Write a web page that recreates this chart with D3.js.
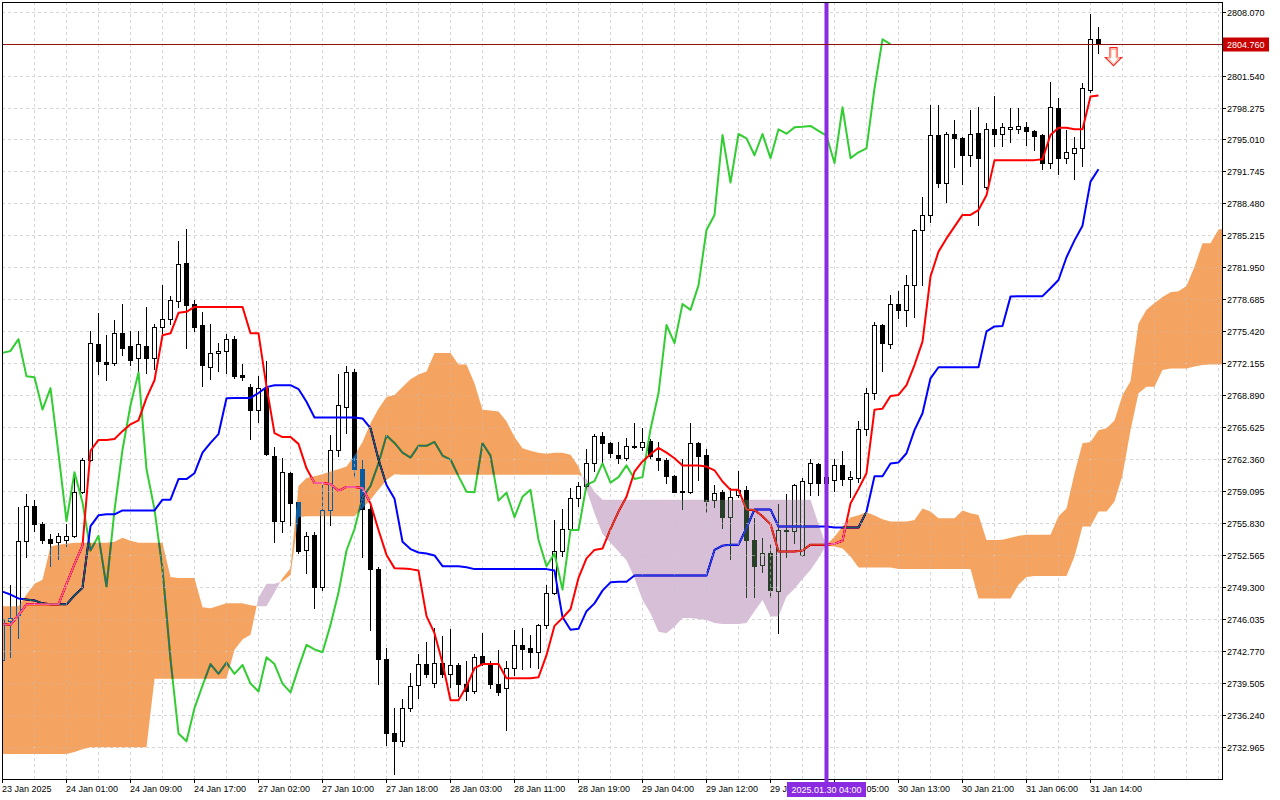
<!DOCTYPE html>
<html>
<head>
<meta charset="utf-8">
<script src="https://d3js.org/d3.v7.min.js"></script>
<style>
  html, body { margin: 0; padding: 0; background: #fff; }
  svg { display: block; font-family: "Liberation Sans", Arial, sans-serif; }
</style>
</head>
<body>
<div id="viz"></div>
<script>
// XAUUSD H1, 23 Jan 17:00 .. 31 Jan 15:00 (one entry per bar)
const OPEN = [2741.8,2745.8,2746.4,2754.0,2757.6,2755.7,2754.2,2753.9,2754.1,2754.5,2759.0,2762.3,2774.1,2772.3,2772.2,2775.2,2773.9,2772.7,2773.9,2772.7,
  2775.8,2776.7,2778.5,2782.4,2778.2,2776.0,2771.8,2773.2,2773.4,2774.6,2770.9,2769.7,2767.4,2769.6,2762.7,2756.0,2760.9,2758.0,2753.1,2754.6,
  2749.3,2757.1,2763.3,2767.7,2771.2,2761.3,2757.2,2751.1,2741.9,2734.4,2733.5,2736.9,2739.3,2741.4,2739.5,2741.55,2740.4,2741.3,2739.4,2738.65,
  2742.2,2741.3,2739.4,2738.9,2741.0,2743.35,2743.0,2742.6,2745.4,2748.7,2753.0,2755.2,2758.4,2759.6,2761.9,2764.75,2764.0,2762.8,2762.5,2763.6,
  2763.6,2764.2,2762.5,2762.3,2760.6,2759.1,2758.95,2764.0,2762.8,2758.2,2759.0,2756.4,2758.7,2759.2,2754.1,2751.5,2752.7,2748.9,2755.0,2755.0,
  2752.5,2759.9,2761.85,2759.9,2760.2,2761.7,2760.3,2760.4,2765.4,2769.07,2776.05,2774.1,2778.2,2777.6,2780.1,2785.76,2787.3,2795.47,2790.6,2795.57,
  2795.13,2793.4,2795.7,2790.2,2796.05,2795.6,2796.05,2796.05,2796.3,2795.9,2795.5,2792.6,2798.2,2793.1,2793.6,2794.1,2800.07,2805.25];
const HIGH = [2746.6,2749.5,2757.4,2758.8,2758.2,2755.9,2754.7,2754.8,2755.7,2760.4,2762.5,2775.4,2777.3,2775.0,2776.6,2778.2,2775.4,2775.4,2777.9,2776.2,
  2780.1,2779.0,2784.6,2785.9,2778.6,2777.4,2776.2,2774.2,2775.1,2774.9,2772.1,2770.0,2770.8,2772.4,2763.6,2762.5,2761.0,2758.0,2754.9,2754.9,
  2759.7,2764.8,2771.05,2771.9,2771.6,2762.3,2757.8,2751.3,2743.0,2736.9,2737.8,2740.5,2742.4,2743.7,2745.1,2744.3,2745.0,2741.5,2741.7,2742.4,
  2744.6,2741.7,2742.8,2741.7,2744.9,2745.1,2744.4,2745.5,2749.5,2756.1,2757.2,2759.4,2760.0,2763.35,2764.9,2765.1,2764.1,2764.1,2764.5,2766.0,
  2765.5,2764.4,2764.1,2762.5,2760.7,2762.4,2766.0,2764.1,2763.35,2759.7,2759.2,2759.4,2761.1,2759.6,2756.3,2754.25,2753.7,2757.8,2758.8,2759.8,
  2760.4,2762.4,2761.9,2761.5,2762.4,2763.2,2761.1,2766.2,2769.6,2776.4,2776.2,2779.1,2779.5,2781.2,2785.9,2789.1,2798.5,2798.5,2795.8,2797.0,
  2795.3,2798.0,2798.3,2796.7,2799.45,2796.7,2798.2,2798.2,2796.8,2796.0,2795.6,2800.9,2799.3,2796.0,2795.3,2800.8,2807.8,2806.5];
const LOW = [2741.0,2742.1,2744.1,2752.3,2755.0,2753.8,2751.4,2752.1,2753.5,2754.4,2758.9,2762.1,2771.0,2770.4,2772.0,2773.0,2772.0,2771.1,2771.1,2771.6,
  2775.2,2776.2,2777.9,2773.7,2775.4,2769.8,2770.5,2771.3,2771.1,2770.6,2770.4,2764.4,2766.1,2762.8,2753.85,2754.9,2755.6,2752.7,2750.7,2747.1,
  2749.0,2755.6,2762.7,2765.0,2760.55,2752.3,2744.9,2739.4,2733.1,2730.2,2733.0,2736.6,2737.9,2740.1,2739.1,2740.1,2739.1,2738.1,2737.7,2738.4,
  2741.3,2738.9,2738.2,2734.7,2740.3,2740.9,2741.1,2741.0,2745.05,2748.6,2752.4,2754.9,2757.5,2759.5,2761.1,2762.0,2762.6,2761.9,2762.3,2763.5,
  2763.3,2762.5,2761.2,2759.9,2759.0,2757.2,2758.9,2760.2,2756.9,2757.4,2755.3,2752.1,2758.5,2748.2,2748.3,2750.85,2748.3,2744.6,2752.3,2753.8,
  2752.4,2758.7,2758.7,2758.5,2759.1,2759.7,2758.45,2760.05,2764.8,2768.5,2771.3,2773.7,2776.8,2775.95,2776.9,2780.1,2786.6,2790.2,2788.66,2792.2,
  2790.5,2792.3,2786.3,2790.0,2794.3,2794.3,2794.8,2795.7,2794.4,2793.9,2791.96,2792.1,2791.5,2792.6,2791.0,2792.3,2799.9,2803.8];
const CLOSE = [2746.0,2746.1,2754.0,2757.6,2755.7,2754.1,2753.8,2754.5,2754.5,2759.0,2762.3,2774.2,2772.4,2772.1,2775.2,2773.7,2772.5,2774.1,2772.7,2775.8,
  2776.7,2778.6,2782.3,2778.1,2775.8,2772.0,2773.2,2773.4,2774.6,2770.8,2770.7,2767.4,2769.6,2762.9,2756.0,2761.0,2757.9,2753.0,2754.5,2749.3,
  2757.1,2763.3,2767.85,2771.2,2761.3,2757.2,2751.1,2741.9,2734.3,2733.5,2736.9,2739.2,2741.4,2740.4,2741.55,2740.4,2741.3,2739.4,2738.6,2742.1,
  2741.4,2739.4,2738.5,2741.0,2743.35,2742.9,2742.6,2745.4,2748.7,2753.0,2755.2,2758.4,2759.6,2761.9,2764.75,2764.0,2763.0,2762.5,2763.7,2763.7,
  2764.1,2762.7,2762.3,2760.6,2759.0,2758.95,2763.96,2762.7,2758.1,2758.9,2756.4,2758.5,2759.2,2754.1,2751.4,2752.7,2749.0,2755.1,2755.1,2759.7,
  2760.1,2761.9,2759.94,2760.5,2761.7,2760.3,2760.5,2765.4,2769.07,2776.05,2774.2,2778.2,2777.6,2780.1,2785.76,2787.3,2795.47,2790.6,2795.57,2795.13,
  2793.4,2795.57,2793.1,2796.05,2795.6,2796.25,2796.3,2796.4,2795.9,2795.4,2792.6,2798.3,2793.1,2793.7,2794.1,2800.24,2805.25,2804.76];

const TENKAN = [2745.5,2745.4,2746.4,2747.5,2747.5,2747.5,2747.5,2747.5,2749.6,2751.6,2753.5,2763.2,2764.3,2764.3,2764.4,2765.2,2765.9,2766.3,2768.6,2770.4,
  2775.0,2775.2,2777.3,2777.4,2777.9,2777.9,2777.9,2777.9,2777.9,2777.9,2777.9,2775.2,2775.2,2769.75,2765.0,2764.6,2764.6,2763.9,2761.4,2759.9,
  2759.9,2759.8,2759.1,2759.5,2759.5,2759.4,2757.8,2755.1,2752.55,2751.2,2751.15,2751.1,2750.95,2746.3,2744.55,2741.5,2737.7,2737.7,2739.1,2740.97,
  2741.4,2741.4,2741.4,2739.95,2739.95,2739.95,2739.95,2740.05,2742.3,2745.3,2746.1,2747.0,2750.2,2752.2,2753.06,2753.2,2755.2,2756.98,2758.5,2761.07,
  2762.1,2762.84,2763.5,2763.0,2762.43,2761.7,2761.7,2761.7,2761.58,2761.2,2760.05,2759.2,2759.2,2757.2,2757.15,2756.5,2755.7,2752.9,2752.9,2752.9,
  2753.0,2753.6,2753.6,2753.6,2753.7,2754.0,2757.8,2759.3,2760.9,2767.4,2767.5,2768.8,2768.9,2769.9,2771.96,2774.35,2781.0,2783.55,2784.9,2786.1,
  2787.3,2787.3,2787.8,2789.3,2792.9,2792.9,2792.9,2792.9,2792.9,2792.9,2793.0,2795.47,2796.2,2796.2,2796.05,2796.05,2799.4,2799.5];
const KIJUN = [2748.8,2748.5,2748.1,2748.0,2747.9,2747.6,2747.5,2747.5,2747.5,2748.4,2749.2,2755.5,2756.6,2756.7,2756.7,2757.1,2757.1,2757.1,2757.1,2757.1,
  2758.2,2758.2,2760.3,2760.3,2760.9,2763.0,2764.0,2764.9,2768.56,2768.6,2768.6,2768.6,2769.1,2769.7,2769.9,2769.9,2769.9,2769.5,2768.2,2766.6,
  2766.6,2766.6,2766.6,2766.6,2766.6,2766.5,2765.5,2762.3,2759.7,2758.3,2753.9,2753.15,2752.8,2752.7,2752.5,2751.4,2751.4,2751.4,2751.3,2751.1,
  2751.1,2751.1,2751.1,2751.1,2751.1,2751.1,2751.1,2751.1,2751.1,2750.95,2746.2,2744.9,2745.0,2746.8,2747.6,2748.9,2749.75,2749.8,2749.8,2750.44,
  2750.44,2750.44,2750.44,2750.44,2750.44,2750.44,2750.44,2750.44,2750.44,2753.06,2753.5,2753.6,2753.6,2755.3,2757.2,2757.2,2757.2,2755.45,2755.45,2755.45,
  2755.45,2755.45,2755.45,2755.45,2755.35,2755.35,2755.35,2755.35,2756.98,2760.6,2760.6,2761.9,2762.0,2762.94,2765.3,2767.03,2770.6,2771.73,2771.73,2771.73,
  2771.73,2771.73,2771.73,2775.4,2775.9,2775.95,2778.95,2779.0,2779.0,2779.0,2779.0,2779.8,2780.65,2782.97,2784.7,2786.2,2790.7,2791.96];
// lagging span, drawn 26 bars back
const CHIKOU = [2773.2,2773.4,2774.6,2770.8,2770.7,2767.4,2769.6,2762.9,2756.0,2761.0,2757.9,2753.0,2754.5,2749.3,2757.1,2763.3,2767.85,2771.2,2761.3,2757.2,
  2751.1,2741.9,2734.3,2733.5,2736.9,2739.2,2741.4,2740.4,2741.55,2740.4,2741.3,2739.4,2738.6,2742.1,2741.4,2739.4,2738.5,2741.0,2743.35,2742.9,
  2742.6,2745.4,2748.7,2753.0,2755.2,2758.4,2759.6,2761.9,2764.75,2764.0,2763.0,2762.5,2763.7,2763.7,2764.1,2762.7,2762.3,2760.6,2759.0,2758.95,
  2763.96,2762.7,2758.1,2758.9,2756.4,2758.5,2759.2,2754.1,2751.4,2752.7,2749.0,2755.1,2755.1,2759.7,2760.1,2761.9,2759.94,2760.5,2761.7,2760.3,
  2760.5,2765.4,2769.07,2776.05,2774.2,2778.2,2777.6,2780.1,2785.76,2787.3,2795.47,2790.6,2795.57,2795.13,2793.4,2795.57,2793.1,2796.05,2795.6,2796.25,
  2796.3,2796.4,2795.9,2795.4,2792.6,2798.3,2793.1,2793.7,2794.1,2800.24,2805.25,2804.76];
// leading spans, drawn 26 bars ahead (run past the last candle)
const SPAN_A = [2747.3,2747.3,2747.3,2748.5,2749.6,2750.0,2753.4,2753.6,2753.7,2753.8,2753.8,2753.8,2753.8,2753.8,2753.9,2754.3,2754.0,2753.8,2753.8,2753.8,
  2753.8,2750.3,2750.2,2750.2,2750.2,2747.2,2747.1,2747.35,2747.6,2747.6,2747.6,2747.4,2747.3,2747.3,2748.7,2750.2,2751.2,2759.6,2760.4,2760.6,
  2760.8,2761.07,2761.3,2761.6,2762.7,2764.1,2766.0,2767.5,2768.7,2768.9,2769.7,2770.5,2771.0,2771.3,2773.2,2773.2,2773.2,2772.0,2772.0,2770.1,
  2767.4,2767.3,2767.2,2766.2,2764.6,2763.45,2763.2,2763.0,2762.9,2763.0,2763.0,2762.8,2761.6,2759.2,2756.8,2754.7,2753.8,2752.9,2752.0,2750.2,
  2747.95,2746.6,2744.7,2744.55,2745.2,2746.1,2746.1,2746.0,2745.9,2745.6,2745.5,2745.5,2745.5,2745.6,2746.8,2747.95,2746.25,2746.25,2748.3,2749.1,
  2750.1,2751.0,2752.2,2753.6,2754.4,2755.45,2756.37,2756.6,2756.9,2756.57,2756.2,2755.96,2755.96,2755.96,2756.13,2757.3,2756.98,2756.3,2756.3,2756.3,
  2757.08,2756.8,2756.64,2754.08,2754.08,2754.09,2754.3,2754.5,2754.6,2754.6,2754.6,2754.6,2756.5,2757.3,2760.9,2763.96,2764.1,2765.3,2765.5,2766.3,
  2768.9,2770.3,2776.2,2777.6,2778.3,2778.9,2779.4,2779.5,2780.04,2782.0,2784.4,2784.4,2785.8,2785.95];
const SPAN_B = [2732.2,2732.2,2732.2,2732.2,2732.2,2732.2,2732.2,2732.2,2732.2,2732.4,2732.7,2732.9,2732.9,2732.9,2732.9,2732.9,2732.9,2732.9,2732.9,2739.9,
  2739.9,2739.9,2739.9,2739.9,2739.9,2739.9,2739.9,2739.9,2739.9,2742.85,2743.9,2744.4,2748.2,2749.6,2749.6,2749.85,2750.5,2756.4,2756.5,2756.5,
  2756.5,2756.5,2756.5,2756.5,2756.5,2757.3,2758.2,2759.2,2760.2,2760.8,2760.75,2760.75,2760.75,2760.75,2760.75,2760.75,2760.75,2760.75,2760.75,2760.75,
  2760.75,2760.75,2760.75,2760.75,2760.75,2760.75,2760.75,2760.75,2760.75,2760.75,2760.75,2760.75,2760.75,2760.3,2759.0,2758.2,2758.2,2758.2,2758.2,2758.2,
  2758.2,2758.2,2758.2,2758.2,2758.2,2758.2,2758.2,2758.2,2758.2,2758.2,2758.2,2758.2,2758.2,2758.2,2758.2,2758.2,2758.2,2758.2,2758.2,2758.2,
  2758.2,2758.2,2755.7,2753.47,2753.4,2753.2,2752.4,2751.26,2751.26,2751.26,2751.26,2751.26,2751.1,2751.1,2751.1,2751.1,2751.1,2751.1,2751.1,2751.1,
  2751.1,2751.1,2748.1,2748.1,2748.1,2748.1,2748.1,2749.5,2750.3,2750.4,2750.4,2750.4,2750.4,2750.4,2752.4,2755.45,2755.45,2756.98,2756.98,2758.0,
  2760.7,2765.3,2769.07,2769.75,2769.75,2771.45,2771.6,2771.6,2771.6,2771.8,2771.97,2772.0,2772.0,2772.0];

const PRICE_TICKS = ["2808.070","2804.805","2801.540","2798.275","2795.010","2791.745","2788.480","2785.215","2781.950","2778.685","2775.420","2772.155",
  "2768.890","2765.625","2762.360","2759.095","2755.830","2752.565","2749.300","2746.035","2742.770","2739.505","2736.240","2732.965"];
const TIME_TICK_BARS = [0,8,16,24,32,40,48,56,64,72,80,88,96,104,112,120,128,136];
const TIME_LABELS = ["23 Jan 2025","24 Jan 01:00","24 Jan 09:00","24 Jan 17:00","27 Jan 02:00","27 Jan 10:00","27 Jan 18:00","28 Jan 03:00",
  "28 Jan 11:00","28 Jan 19:00","29 Jan 04:00","29 Jan 12:00","29 Jan 20:00","30 Jan 05:00","30 Jan 13:00","30 Jan 21:00","31 Jan 06:00","31 Jan 14:00"];

const LAST_PRICE = 2804.760;
const MARK_BAR = 103;
const MARK_LABEL = "2025.01.30 04:00";
const ARROW = { bar: 139, price: 2802.55 };

const W = 1280, H = 800;
const PLOT = { left: 2, top: 2, right: 1222, bottom: 779 };

const svg = d3.select("#viz").append("svg").attr("width", W).attr("height", H);
svg.append("rect").attr("width", W).attr("height", H).attr("fill", "#fff");

const x = d3.scaleLinear().domain([0, 137]).range([2.5, 1098.5]);
const y = d3.scaleLinear().domain([2732.965, 2808.070]).range([746.55, 11.7]);
const py = v => Math.round(y(v)) + 0.5;

const defs = svg.append("defs");
defs.append("clipPath").attr("id", "plotClip").append("rect")
  .attr("x", PLOT.left).attr("y", PLOT.top)
  .attr("width", PLOT.right - PLOT.left).attr("height", PLOT.bottom - PLOT.top);

const plot = svg.append("g").attr("clip-path", "url(#plotClip)");
plot.append("rect").attr("x", 0).attr("y", 0).attr("width", W).attr("height", H).attr("fill", "#fff");

// grid
const gridBars = d3.range(0, 153, 4);
function drawGrid(g, color, opacity) {
  g.selectAll(".vg").data(gridBars).join("line")
    .attr("x1", d => x(d)).attr("x2", d => x(d))
    .attr("y1", PLOT.top).attr("y2", PLOT.bottom);
  g.selectAll(".hg").data(PRICE_TICKS).join("line")
    .attr("x1", PLOT.left).attr("x2", PLOT.right)
    .attr("y1", d => py(+d)).attr("y2", d => py(+d));
  g.selectAll("line").attr("stroke", color).attr("stroke-opacity", opacity)
    .attr("stroke-dasharray", "3,3").attr("shape-rendering", "crispEdges");
}
drawGrid(plot.append("g"), "#d6d6d6", 1);

// candles
const bars = d3.range(OPEN.length);
plot.append("g").selectAll("line").data(bars).join("line")
  .attr("x1", i => x(i)).attr("x2", i => x(i))
  .attr("y1", i => Math.round(y(HIGH[i]))).attr("y2", i => Math.round(y(LOW[i])) + 1)
  .attr("stroke", "#000").attr("shape-rendering", "crispEdges");
plot.append("g").selectAll("rect").data(bars).join("rect")
  .attr("x", i => x(i) - 2)
  .attr("y", i => py(Math.max(OPEN[i], CLOSE[i])))
  .attr("width", 4)
  .attr("height", i => py(Math.min(OPEN[i], CLOSE[i])) - py(Math.max(OPEN[i], CLOSE[i])))
  .attr("fill", i => CLOSE[i] >= OPEN[i] ? "#fff" : "#000")
  .attr("stroke", "#000").attr("shape-rendering", "crispEdges");

// ichimoku lines
const line = d3.line().x((d, i) => x(i)).y(d => y(d));
[[CHIKOU, "#32cd32"], [KIJUN, "#0000ff"], [TENKAN, "#ff0000"]].forEach(([data, color]) => {
  plot.append("path").datum(data).attr("d", line)
    .attr("fill", "none").attr("stroke", color).attr("stroke-width", 2)
    .attr("stroke-linejoin", "round");
});

// cloud: split where the spans cross, fill is inverted like the terminal does
function cloudSegments(a, b) {
  const segs = [];
  let cur = null;
  for (let i = 0; i < a.length; i++) {
    const sign = a[i] - b[i] >= 0 ? 1 : -1;
    const p = { i, a: a[i], b: b[i] };
    if (!cur) { cur = { sign, pts: [p] }; continue; }
    if (sign !== cur.sign) {
      const d0 = a[i - 1] - b[i - 1], d1 = a[i] - b[i];
      const t = d0 / (d0 - d1);
      const v = a[i - 1] + t * (a[i] - a[i - 1]);
      const c = { i: i - 1 + t, a: v, b: v };
      cur.pts.push(c);
      segs.push(cur);
      cur = { sign, pts: [c, p] };
    } else cur.pts.push(p);
  }
  segs.push(cur);
  return segs;
}
const segs = cloudSegments(SPAN_A, SPAN_B);
const area = d3.area().x(p => x(p.i)).y0(p => y(p.b)).y1(p => y(p.a));
plot.append("g").selectAll("path").data(segs).join("path")
  .attr("d", s => area(s.pts))
  .attr("fill", s => s.sign > 0 ? "#0b5b9f" : "#274027")
  .style("mix-blend-mode", "difference");

defs.append("clipPath").attr("id", "cloudClip").selectAll("path").data(segs).join("path")
  .attr("d", s => area(s.pts));
drawGrid(plot.append("g").attr("clip-path", "url(#cloudClip)"), "#fff", 0.4);

// vertical marker and last price line
plot.append("line").attr("x1", x(MARK_BAR)).attr("x2", x(MARK_BAR))
  .attr("y1", PLOT.top).attr("y2", H)
  .attr("stroke", "#8a2be2").attr("stroke-width", 4);
plot.append("line").attr("x1", PLOT.left).attr("x2", PLOT.right)
  .attr("y1", py(LAST_PRICE)).attr("y2", py(LAST_PRICE))
  .attr("stroke", "#8e1010").attr("shape-rendering", "crispEdges");

// sell arrow
const ax = x(ARROW.bar) - 1, ay = y(ARROW.price);
const arrowPts = [[-3.5, -18], [3.5, -18], [3.5, -8], [8, -8], [0, 0], [-8, -8], [-3.5, -8]];
plot.append("path")
  .attr("d", d3.line()(arrowPts.map(([dx, dy]) => [ax + dx, ay + dy])) + "Z")
  .attr("fill", "#fff").attr("stroke", "#ff2020").attr("stroke-width", 1.2);
plot.append("path")
  .attr("d", d3.line()(arrowPts.map(([dx, dy]) => [ax + dx * 0.72, ay - 1.6 + dy * 0.82])) + "Z")
  .attr("fill", "none").attr("stroke", "#ffb090").attr("stroke-width", 1);

// frame
svg.append("rect").attr("x", PLOT.left + 0.5).attr("y", PLOT.top + 0.5)
  .attr("width", PLOT.right - PLOT.left).attr("height", PLOT.bottom - PLOT.top)
  .attr("fill", "none").attr("stroke", "#000").attr("shape-rendering", "crispEdges");

// price axis
const yAxis = svg.append("g").attr("font-size", 9);
PRICE_TICKS.forEach(t => {
  const yy = py(+t);
  yAxis.append("line").attr("x1", PLOT.right).attr("x2", PLOT.right + 4)
    .attr("y1", yy).attr("y2", yy).attr("stroke", "#000").attr("shape-rendering", "crispEdges");
  if (Math.abs(y(+t) - y(LAST_PRICE)) < 9) return;
  yAxis.append("text").attr("x", PLOT.right + 5).attr("y", yy + 3.5).attr("fill", "#000").text(t);
});
const ly = py(LAST_PRICE);
yAxis.append("rect").attr("x", PLOT.right + 1).attr("y", ly - 7).attr("width", 46).attr("height", 14).attr("fill", "#c80000");
yAxis.append("text").attr("x", PLOT.right + 5).attr("y", ly + 3.5).attr("fill", "#fff").text(LAST_PRICE.toFixed(3));

// time axis; labels under the marker's date box are cut back to what stays visible
const mx = x(MARK_BAR);
const boxL = mx - 39.5, boxR = mx + 39.5;
const xAxis = svg.append("g").attr("font-size", 9);
TIME_TICK_BARS.forEach((b, k) => {
  const xx = x(b);
  xAxis.append("line").attr("x1", xx).attr("x2", xx).attr("y1", PLOT.bottom).attr("y2", PLOT.bottom + 4)
    .attr("stroke", "#000").attr("shape-rendering", "crispEdges");
  const full = TIME_LABELS[k];
  const txt = xAxis.append("text").attr("x", xx - 0.5).attr("y", 792).attr("fill", "#000").text(full);
  const node = txt.node();
  const left = xx - 0.5;
  if (left < boxL && left + node.getComputedTextLength() > boxL) {
    let s = full;
    while (s.length && left + node.getSubStringLength(0, s.length) > boxL + 1.5) s = s.slice(0, -1);
    txt.text(s);
  } else if (left >= boxL && left < boxR) {
    let j = 0;
    while (j < full.length && left + node.getSubStringLength(0, j + 1) < boxR - 4) j++;
    const s = full.slice(j).trimStart();
    txt.text(s).attr("x", boxR + 0.5);
  }
});
svg.append("line").attr("x1", mx).attr("x2", mx).attr("y1", PLOT.bottom).attr("y2", 783)
  .attr("stroke", "#8a2be2").attr("stroke-width", 4);
svg.append("rect").attr("x", boxL).attr("y", 782).attr("width", 79).attr("height", 15).attr("fill", "#8a2be2");
svg.append("text").attr("x", mx).attr("y", 793).attr("text-anchor", "middle").attr("font-size", 9)
  .attr("fill", "#fff").text(MARK_LABEL);
</script>
</body>
</html>
